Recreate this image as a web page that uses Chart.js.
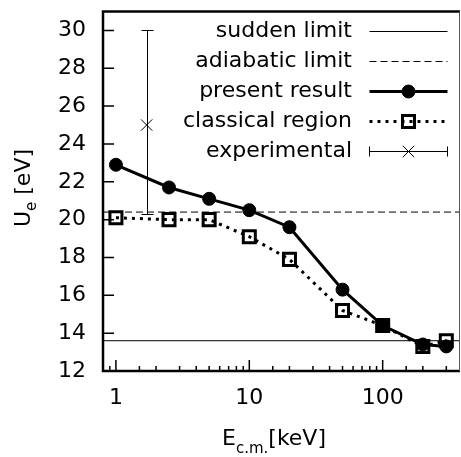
<!DOCTYPE html>
<html>
<head>
<meta charset="utf-8">
<script src="https://cdn.jsdelivr.net/npm/chart.js@4.4.1/dist/chart.umd.min.js"></script>
<style>
html, body { margin: 0; padding: 0; background: #fff; }
</style>
</head>
<body>
<canvas id="grafico" width="461" height="457"></canvas>
<script>
// dados
const energias = [1, 2.5, 5, 10, 20, 50, 100, 200, 300];
const resultadoAtual = [22.9, 21.7, 21.1, 20.5, 19.6, 16.3, 14.4, 13.4, 13.3];
const regiaoClassica = [20.1, 20.0, 20.0, 19.1, 17.9, 15.2, 14.4, 13.3, 13.6];
const limiteSubito = 13.6;
const limiteAdiabatico = 20.4;
const expEnergia = [1.7];
const expValor = [25];
const expMin = [20.3];
const expMax = [30];
const faixaX = [0.8, 380];
const faixaY = [12, 31];
const rotulosY = [12, 14, 16, 18, 20, 22, 24, 26, 28, 30];
const rotulosX = [1, 10, 100];
const nomesLegenda = ['sudden limit', 'adiabatic limit', 'present result', 'classical region', 'experimental'];

const FONTE = '"DejaVu Sans", sans-serif';

// sem folgas extras nos eixos
function semFolga(s) {
    s.paddingTop = 0; s.paddingBottom = 0;
    s.paddingLeft = 0; s.paddingRight = 0;
}

// a caixa vai até a borda direita (o layout deixava uma sobra)
const areaFixa = {
    id: 'areaFixa',
    afterLayout(chart) {
        const direita = chart.width - 1;
        const sx = chart.scales.x;
        chart.chartArea.right = direita;
        chart.chartArea.width = direita - chart.chartArea.left;
        sx.right = direita;
        sx.width = direita - sx.left;
        sx.configure();
    }
};

// eixos, ticks internos, titulos e legenda desenhados à mão
const extras = {
    id: 'extras',
    afterDraw(chart) {
        const ctx = chart.ctx;
        const a = chart.chartArea;
        const sx = chart.scales.x, sy = chart.scales.y;
        ctx.save();
        ctx.strokeStyle = '#000';

        // barra de erro experimental
        ctx.lineWidth = 1;
        expEnergia.forEach((e, i) => {
            const px = Math.round(sx.getPixelForValue(e)) + 0.5;
            const y1 = Math.round(sy.getPixelForValue(expMin[i])) + 0.5;
            const y2 = Math.round(sy.getPixelForValue(expMax[i])) + 0.5;
            ctx.beginPath();
            ctx.moveTo(px, y1); ctx.lineTo(px, y2);
            ctx.moveTo(px - 6, y1); ctx.lineTo(px + 6, y1);
            ctx.moveTo(px - 6, y2); ctx.lineTo(px + 6, y2);
            ctx.stroke();
        });

        // moldura
        ctx.lineWidth = 2.5;
        ctx.beginPath();
        ctx.moveTo(a.right, a.top); ctx.lineTo(a.left, a.top);
        ctx.lineTo(a.left, a.bottom); ctx.lineTo(a.right, a.bottom);
        ctx.stroke();
        ctx.lineWidth = 1;
        ctx.strokeStyle = '#555';
        ctx.beginPath();
        ctx.moveTo(a.right - 0.5, a.top); ctx.lineTo(a.right - 0.5, a.bottom);
        ctx.stroke();
        ctx.strokeStyle = '#000';

        // ticks
        ctx.lineWidth = 1.5;
        ctx.beginPath();
        sy.ticks.forEach(t => {
            if (!rotulosY.includes(t.value)) return;
            const py = sy.getPixelForValue(t.value);
            ctx.moveTo(a.left, py); ctx.lineTo(a.left + 11, py);
        });
        sx.ticks.forEach(t => {
            if (t.value <= faixaX[0] || t.value >= faixaX[1]) return;
            const px = sx.getPixelForValue(t.value);
            const maior = rotulosX.includes(t.value);
            ctx.moveTo(px, a.bottom); ctx.lineTo(px, a.bottom - (maior ? 11 : 5));
        });
        ctx.stroke();

        // titulos dos eixos
        ctx.fillStyle = '#000';
        ctx.textBaseline = 'alphabetic';
        ctx.save();
        ctx.translate(30, 188);
        ctx.rotate(-Math.PI / 2);
        ctx.font = '22px ' + FONTE;
        const wU = ctx.measureText('U').width;
        ctx.font = '15px ' + FONTE;
        const we = ctx.measureText('e').width;
        ctx.font = '22px ' + FONTE;
        const wr = ctx.measureText(' [eV]').width;
        let x0 = -(wU + we + wr) / 2;
        ctx.fillText('U', x0, 0);
        ctx.font = '15px ' + FONTE;
        ctx.fillText('e', x0 + wU, 6);
        ctx.font = '22px ' + FONTE;
        ctx.fillText(' [eV]', x0 + wU + we, 0);
        ctx.restore();

        ctx.font = '22px ' + FONTE;
        ctx.fillText('E', 222, 445);
        const wE = ctx.measureText('E').width;
        ctx.font = '15px ' + FONTE;
        ctx.fillText('c.m.', 222 + wE, 453);
        const wcm = ctx.measureText('c.m.').width;
        ctx.font = '22px ' + FONTE;
        ctx.fillText('[keV]', 222 + wE + wcm, 445);

        // legenda
        const ds = chart.data.datasets;
        ctx.textAlign = 'right';
        ctx.textBaseline = 'middle';
        nomesLegenda.forEach((nome, i) => {
            const y = 31 + i * 30;
            ctx.font = '22px ' + FONTE;
            ctx.fillStyle = '#000';
            ctx.fillText(nome, 352, y);
            const d = ds[i];
            const x1 = 369.5, x2 = 447.5, xm = (x1 + x2) / 2;
            const yl = Math.round(y) + 0.5;
            ctx.strokeStyle = '#000';
            if (i < 4) {
                ctx.lineWidth = d.borderWidth;
                ctx.setLineDash(d.borderDash || []);
                ctx.beginPath();
                ctx.moveTo(x1, yl); ctx.lineTo(x2, yl);
                ctx.stroke();
                ctx.setLineDash([]);
            } else {
                ctx.lineWidth = 1;
                ctx.beginPath();
                ctx.moveTo(x1, yl); ctx.lineTo(x2, yl);
                ctx.moveTo(x1, yl - 5); ctx.lineTo(x1, yl + 5);
                ctx.moveTo(x2, yl - 5); ctx.lineTo(x2, yl + 5);
                ctx.stroke();
            }
            if (d.pointRadius > 0) {
                ctx.fillStyle = d.pointBackgroundColor || 'rgba(0,0,0,0)';
                ctx.strokeStyle = d.pointBorderColor || '#000';
                ctx.lineWidth = d.pointBorderWidth;
                Chart.helpers.drawPoint(ctx, {
                    pointStyle: d.pointStyle, radius: d.pointRadius,
                    borderWidth: d.pointBorderWidth
                }, xm, yl);
            }
        });
        ctx.restore();
    }
};

const ctx = document.getElementById('grafico').getContext('2d');
const meuGrafico = new Chart(ctx, {
    type: 'line',
    data: {
        datasets: [
            {
                label: nomesLegenda[0],
                data: faixaX.map(x => ({ x, y: limiteSubito })),
                borderColor: '#000', borderWidth: 1, pointRadius: 0, order: 5
            },
            {
                label: nomesLegenda[1],
                data: faixaX.map(x => ({ x, y: limiteAdiabatico })),
                borderColor: '#000', borderWidth: 1, borderDash: [7, 4], pointRadius: 0, order: 4
            },
            {
                label: nomesLegenda[2],
                data: energias.map((x, i) => ({ x, y: resultadoAtual[i] })),
                borderColor: '#000', borderWidth: 3, pointStyle: 'circle', pointRadius: 6.5,
                pointBackgroundColor: '#000', pointBorderColor: '#000', pointBorderWidth: 1, order: 2
            },
            {
                label: nomesLegenda[3],
                data: energias.map((x, i) => ({ x, y: regiaoClassica[i] })),
                borderColor: '#000', borderWidth: 3, borderDash: [3, 5], pointStyle: 'rect', pointRadius: 8.5,
                pointBackgroundColor: 'rgba(0,0,0,0)', pointBorderColor: '#000', pointBorderWidth: 3, order: 1
            },
            {
                label: nomesLegenda[4],
                data: expEnergia.map((x, i) => ({ x, y: expValor[i] })),
                showLine: false, pointStyle: 'crossRot', pointRadius: 8,
                pointBorderColor: '#000', pointBorderWidth: 1, order: 3
            }
        ]
    },
    options: {
        responsive: false,
        animation: false,
        layout: { padding: { top: 10, right: 1, left: 0, bottom: 0 } },
        plugins: { legend: { display: false }, tooltip: { enabled: false } },
        scales: {
            x: {
                type: 'logarithmic',
                min: faixaX[0], max: faixaX[1],
                border: { display: false },
                grid: { display: false, drawTicks: false },
                afterFit: s => { s.height = 86; semFolga(s); },
                ticks: {
                    autoSkip: false, maxRotation: 0, padding: 14,
                    color: '#000', font: { family: FONTE, size: 22 },
                    callback: v => rotulosX.includes(v) ? String(v) : ''
                }
            },
            y: {
                min: faixaY[0], max: faixaY[1],
                border: { display: false },
                grid: { display: false, drawTicks: false },
                afterFit: s => { s.width = 103; semFolga(s); },
                ticks: {
                    stepSize: 2, includeBounds: false, padding: 17,
                    color: '#000', font: { family: FONTE, size: 22 },
                    callback: v => rotulosY.includes(v) ? String(v) : ''
                }
            }
        }
    },
    plugins: [areaFixa, extras]
});
</script>
</body>
</html>
